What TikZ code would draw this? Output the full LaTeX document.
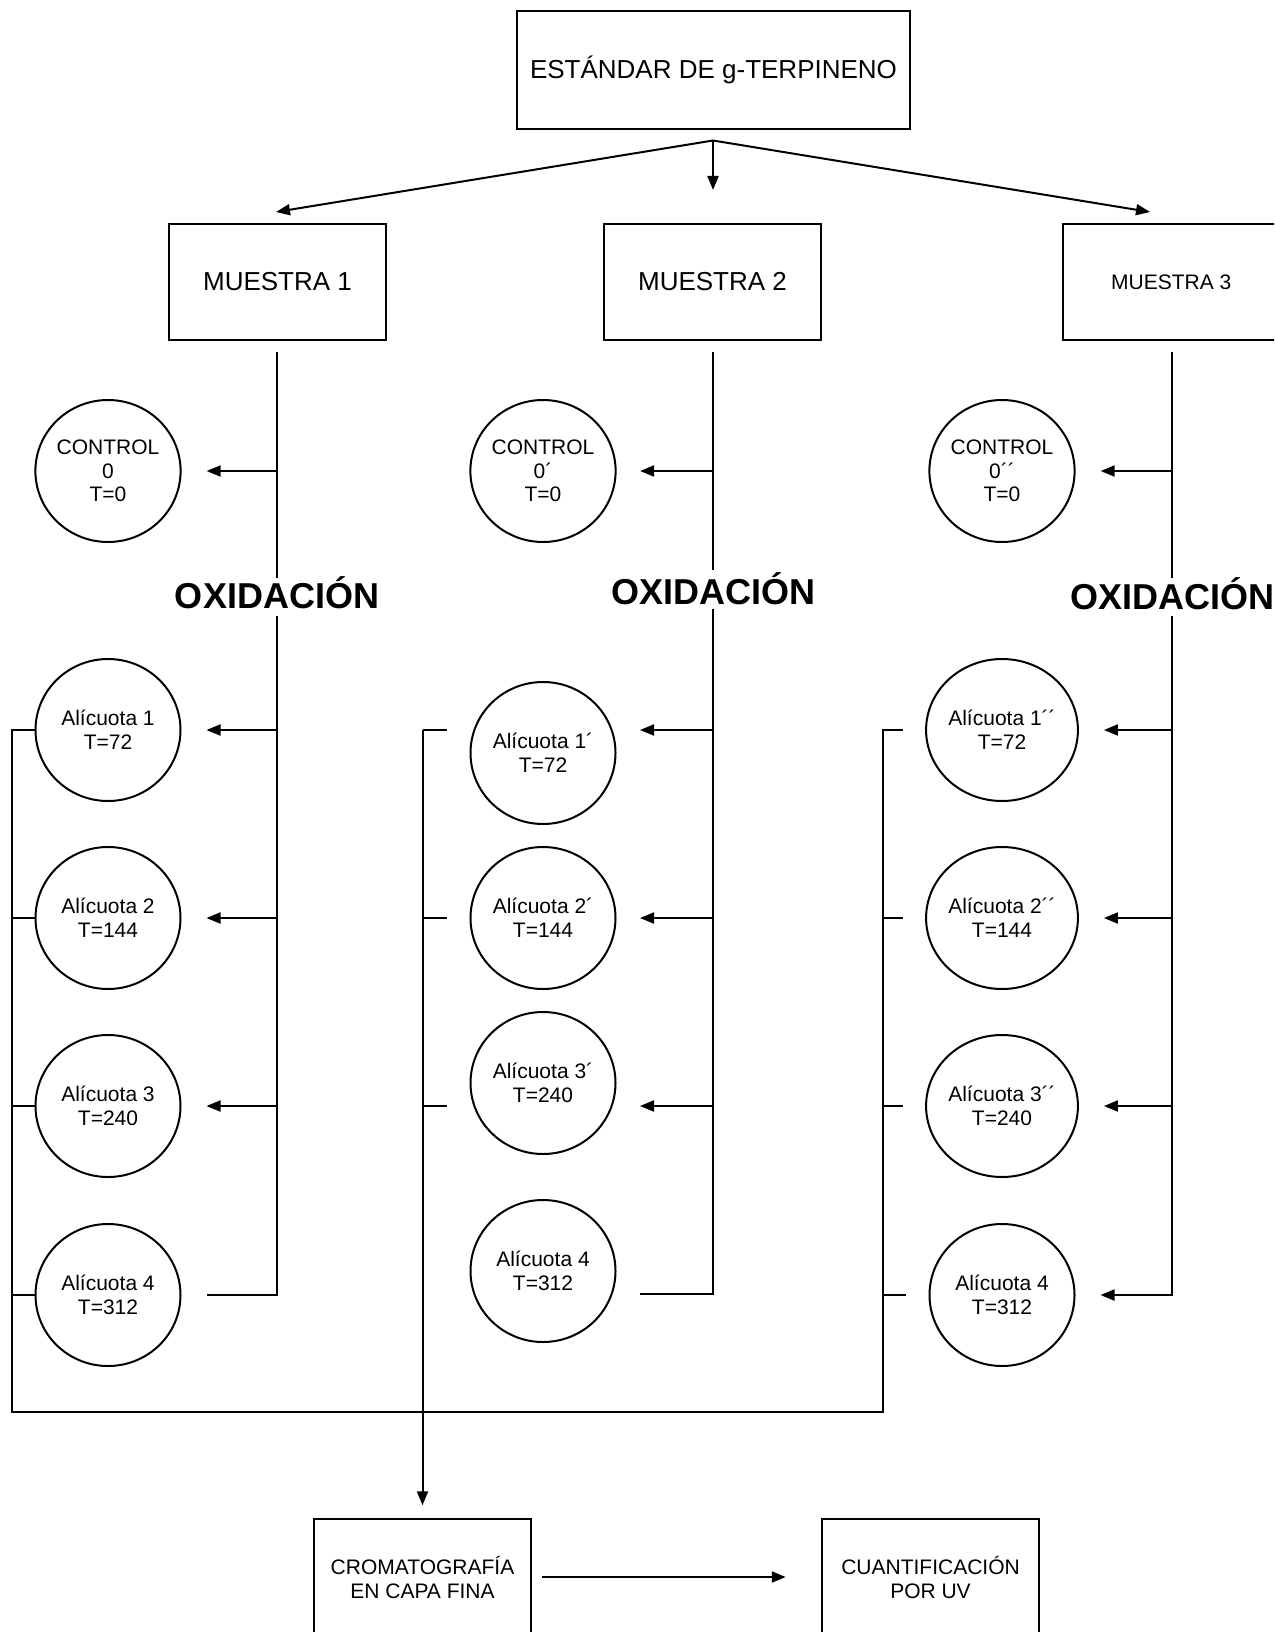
\documentclass[tikz,border=0pt]{standalone}
\usepackage{fontspec}
\setmainfont{Liberation Sans}
\usetikzlibrary{arrows.meta,shapes.geometric}
\begin{document}
\begin{tikzpicture}[x=1pt,y=-1pt,line width=2pt,
 box/.style={draw,rectangle,inner sep=0pt,align=center,minimum width=217.5pt,minimum height=116.5pt,font=\fontsize{26}{30}\selectfont},
 smallbox/.style={box,font=\fontsize{21}{24}\selectfont},
 circ/.style={draw,ellipse,inner sep=0pt,align=center,minimum width=145pt,minimum height=142pt,font=\fontsize{21}{23.5}\selectfont},
 oxi/.style={inner sep=0pt,font=\fontsize{36}{40}\selectfont\bfseries},
 arr/.style={-{Triangle[length=14pt,width=11pt]}},
 joined/.style={line join=miter}]
\useasboundingbox (0,0) rectangle (1274,1632);
\fill[white] (0,0) rectangle (1274,1632);
\clip (0,0) rectangle (1274,1632);

% top
\node[box,minimum width=393pt,minimum height=117.5pt] (est) at (713.5,70) {ESTÁNDAR DE g-TERPINENO};
\node[box] (m1) at (277.5,282) {MUESTRA 1};
\node[box] (m2) at (712.5,282) {MUESTRA 2};
\node[smallbox] (m3) at (1171.3,282) {MUESTRA 3};

\coordinate (src) at (713,140.5);
\coordinate (e1) at (276,212);
\coordinate (e2) at (713,190);
\coordinate (e3) at (1150,212);
\draw[arr] (src) -- (e1);
\draw[arr] (src) -- (e2);
\draw[arr] (src) -- (e3);

% rows
\coordinate (row1) at (0,730);
\coordinate (row2) at (0,918);
\coordinate (row3) at (0,1106);

% column 1
\node[circ] (c1) at (108,471) {CONTROL\\0\\T=0};
\node[circ] (a11) at (108,730) {Alícuota 1\\T=72};
\node[circ] (a12) at (108,918) {Alícuota 2\\T=144};
\node[circ] (a13) at (108,1106) {Alícuota 3\\T=240};
\node[circ] (a14) at (108,1295) {Alícuota 4\\T=312};
\node[oxi] (ox1) at (277,593) {OXIDACIÓN};
\coordinate (t1a) at (277,352);
\coordinate (t1b) at (277,578);
\coordinate (t1c) at (277,616);
\coordinate (t1d) at (277,1295);
\draw (t1a) -- (t1b);
\draw[joined,shorten >=25pt] (t1c) -- (t1d) -- (a14.east);
\draw[arr,shorten >=25pt] (t1a |- c1) -- (c1.east);
\draw[arr,shorten >=25pt] (t1a |- a11) -- (a11.east);
\draw[arr,shorten >=25pt] (t1a |- a12) -- (a12.east);
\draw[arr,shorten >=25pt] (t1a |- a13) -- (a13.east);

% column 2
\node[circ] (c2) at (543,471) {CONTROL\\0´\\T=0};
\node[circ] (m21) at (543,753) {Alícuota 1´\\T=72};
\node[circ] (m22) at (543,918) {Alícuota 2´\\T=144};
\node[circ] (m23) at (543,1083) {Alícuota 3´\\T=240};
\node[circ] (m24) at (543,1271) {Alícuota 4\\T=312};
\node[oxi] (ox2) at (713,589) {OXIDACIÓN};
\coordinate (t2a) at (713,352);
\coordinate (t2b) at (713,570);
\coordinate (t2c) at (713,609);
\coordinate (t2d) at (713,1294);
\draw (t2a) -- (t2b);
\draw[joined,shorten >=23.5pt] (t2c) -- (t2d) -- (m24.east |- t2d);
\draw[arr,shorten >=23.5pt] (t2a |- c2) -- (c2.east);
\draw[arr,shorten >=23.5pt] (t2a |- row1) -- (m21.east |- row1);
\draw[arr,shorten >=23.5pt] (t2a |- row2) -- (m22.east |- row2);
\draw[arr,shorten >=23.5pt] (t2a |- row3) -- (m23.east |- row3);

% column 3
\node[circ] (c3) at (1002,471) {CONTROL\\0´´\\T=0};
\node[circ] (b11) at (1002,730) {Alícuota 1´´\\T=72};
\node[circ] (b12) at (1002,918) {Alícuota 2´´\\T=144};
\node[circ] (b13) at (1002,1106) {Alícuota 3´´\\T=240};
\node[circ] (b14) at (1002,1295) {Alícuota 4\\T=312};
\node[oxi] (ox3) at (1172,594) {OXIDACIÓN};
\coordinate (t3a) at (1172,352);
\coordinate (t3b) at (1172,578);
\coordinate (t3c) at (1172,616);
\coordinate (t3d) at (1172,1295);
\draw (t3a) -- (t3b);
\draw[arr,joined,shorten >=25pt] (t3c) -- (t3d) -- (b14.east);
\draw[arr,shorten >=25pt] (t3a |- c3) -- (c3.east);
\draw[arr,shorten >=25pt] (t3a |- b11) -- (b11.east);
\draw[arr,shorten >=25pt] (t3a |- b12) -- (b12.east);
\draw[arr,shorten >=25pt] (t3a |- b13) -- (b13.east);

% bottom boxes
\node[smallbox] (crom) at (422.5,1577) {CROMATOGRAFÍA\\EN CAPA FINA};
\node[smallbox] (cuan) at (930.5,1577) {CUANTIFICACIÓN\\POR UV};
\draw[arr,shorten <=10pt,shorten >=35pt] (crom) -- (cuan);

% collection lines
\coordinate (cl1t) at (11.5,730);
\coordinate (cl1b) at (11.5,1412);
\coordinate (cl3b) at (882.6,1412);
\coordinate (cl3t) at (882.6,730);
\coordinate (cl2t) at (422.5,730);
\draw[joined,shorten >=22.5pt] (a11.west) -- (cl1t) -- (cl1b) -- (cl3b) -- (cl3t) -- (b11.west);
\draw (cl1t |- a12) -- (a12.west);
\draw (cl1t |- a13) -- (a13.west);
\draw (cl1t |- a14) -- (a14.west);
\draw[shorten >=22.5pt] (cl3t |- b12) -- (b12.west);
\draw[shorten >=22.5pt] (cl3t |- b13) -- (b13.west);
\draw[shorten >=22.5pt] (cl3t |- b14) -- (b14.west);
\draw[shorten >=23pt] (cl2t) -- (m21.west |- cl2t);
\draw[shorten >=23pt] (cl2t |- row2) -- (m22.west |- row2);
\draw[shorten >=23pt] (cl2t |- row3) -- (m23.west |- row3);
\draw[arr,shorten >=12.5pt] (cl2t) -- (crom.north);
\end{tikzpicture}
\end{document}
